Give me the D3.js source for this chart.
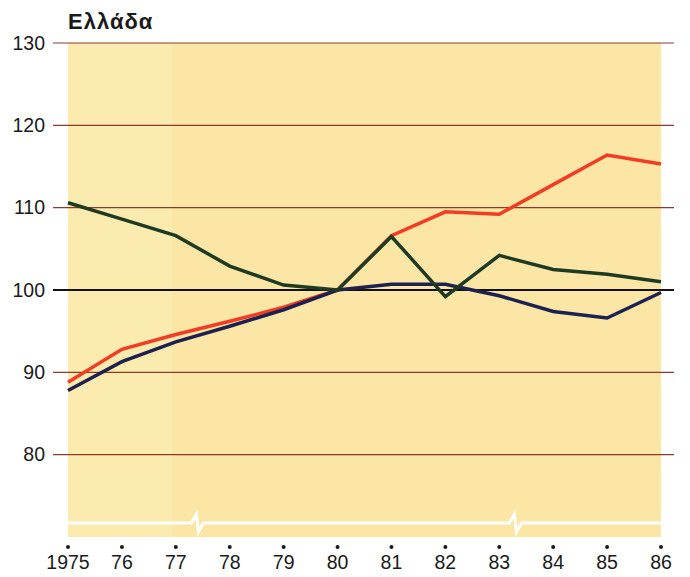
<!DOCTYPE html>
<html>
<head>
<meta charset="utf-8">
<script src="https://cdn.jsdelivr.net/npm/d3@7"></script>
<style>
  body { margin: 0; background: #fff; }
  text { font-family: "Liberation Sans", Arial, sans-serif; fill: #1a1a1a; }
</style>
</head>
<body>
<svg id="chart"></svg>
<script>
// data
var years = [1975, 1976, 1977, 1978, 1979, 1980, 1981, 1982, 1983, 1984, 1985, 1986];
var yearLabels = ["1975", "76", "77", "78", "79", "80", "81", "82", "83", "84", "85", "86"];
var redSeries = [88.8, 92.8, 94.6, 96.2, 97.9, 100, 106.6, 109.5, 109.2, 112.8, 116.4, 115.3];
var greenSeries = [110.6, 108.6, 106.6, 102.9, 100.6, 100, 106.5, 99.2, 104.2, 102.5, 101.9, 101.0];
var navySeries = [87.8, 91.3, 93.7, 95.6, 97.6, 100, 100.7, 100.7, 99.3, 97.4, 96.6, 99.7];
var yTicks = [80, 90, 100, 110, 120, 130];
var breakYears = [1977.4, 1983.3];
var title = "Ελλάδα";

var W = 690, H = 577;
var svg = d3.select("#chart").attr("width", W).attr("height", H);

var x = d3.scaleLinear().domain([1975, 1986]).range([68, 661]);
var y = d3.scaleLinear().domain([70, 130]).range([537, 43]);

// yellow background (left strip a touch paler, as in the print)
svg.append("rect")
    .attr("x", x(1975)).attr("y", y(130))
    .attr("width", x(1986) - x(1975)).attr("height", y(70) - y(130))
    .style("fill", "#fbe6a5");
svg.append("rect")
    .attr("x", x(1975)).attr("y", y(130))
    .attr("width", x(1976.93) - x(1975)).attr("height", y(70) - y(130))
    .style("fill", "#fcebaf");

// grid lines
svg.selectAll("line.grid")
    .data(yTicks)
    .enter()
    .append("line")
    .attr("class", "grid")
    .attr("x1", 53).attr("x2", 674)
    .attr("y1", function(d) { return y(d); })
    .attr("y2", function(d) { return y(d); })
    .style("stroke", function(d) { return d == 100 ? "#111" : "#8c3b2e"; })
    .style("stroke-width", function(d) { return d == 100 ? 2 : 1.2; });

// y tick labels
svg.selectAll("text.ylab")
    .data(yTicks)
    .enter()
    .append("text")
    .attr("class", "ylab")
    .attr("x", 45)
    .attr("y", function(d) { return y(d) + 6.5; })
    .attr("text-anchor", "end")
    .style("font-size", "19.5px")
    .text(function(d) { return d; });

// white axis break line with two zigzags
var breakY = y(71.7);
var breakPath = d3.path();
breakPath.moveTo(x(1975), breakY);
breakYears.forEach(function(b) {
    var bx = x(b);
    breakPath.lineTo(bx - 6, breakY);
    breakPath.lineTo(bx - 1, breakY - 9);
    breakPath.lineTo(bx + 1, breakY + 9);
    breakPath.lineTo(bx + 6, breakY);
});
breakPath.lineTo(x(1986), breakY);
svg.append("path")
    .attr("d", breakPath.toString())
    .style("fill", "none")
    .style("stroke", "#fff")
    .style("stroke-width", 3);

// series lines
var line = d3.line()
    .x(function(d, i) { return x(years[i]); })
    .y(function(d) { return y(d); });

var series = [
    { values: redSeries, color: "#f23c24" },
    { values: navySeries, color: "#1d2150" },
    { values: greenSeries, color: "#1e3a22" }
];
series.forEach(function(s) {
    svg.append("path")
        .datum(s.values)
        .attr("d", line)
        .style("fill", "none")
        .style("stroke", s.color)
        .style("stroke-width", 3.5)
        .style("stroke-linejoin", "miter");
});

// x tick dots and labels
svg.selectAll("circle.tick")
    .data(years)
    .enter()
    .append("circle")
    .attr("class", "tick")
    .attr("cx", function(d) { return x(d); })
    .attr("cy", 547)
    .attr("r", 2)
    .style("fill", "#1a1a1a");

svg.selectAll("text.xlab")
    .data(years)
    .enter()
    .append("text")
    .attr("class", "xlab")
    .attr("x", function(d) { return x(d); })
    .attr("y", 569)
    .attr("text-anchor", "middle")
    .style("font-size", "19.5px")
    .text(function(d, i) { return yearLabels[i]; });

// title
svg.append("text")
    .attr("x", 68).attr("y", 29)
    .style("font-size", "22px")
    .style("font-weight", "bold")
    .style("letter-spacing", "1px")
    .text(title);
</script>
</body>
</html>
